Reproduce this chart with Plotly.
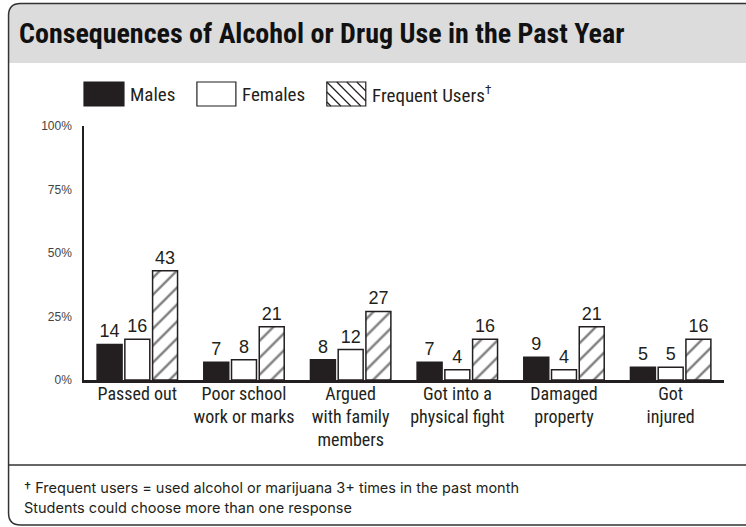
import plotly.graph_objects as go

categories = ["Passed out", "Poor school<br>work or marks", "Argued<br>with family<br>members",
              "Got into a<br>physical fight", "Damaged<br>property", "Got<br>injured"]
males = [14, 7, 8, 7, 9, 5]
females = [16, 8, 12, 4, 4, 5]
frequent = [43, 21, 27, 16, 21, 16]
series_names = ["Males", "Females", "Frequent Users<sup>†</sup>"]
y_ticks = [0, 25, 50, 75, 100]
y_tick_labels = ["0%", "25%", "50%", "75%", "100%"]
title_text = "Consequences of Alcohol or Drug Use in the Past Year"
footnotes = ["† Frequent users = used alcohol or marijuana 3+ times in the past month",
             "Students could choose more than one response"]

W, H = 746, 527
PL, PR, PT, PB = 84, 724.5, 126, 380
COND = "Roboto Condensed, DejaVu Sans Condensed, sans-serif"
DARK = "#231f20"

def px(x):
    return (x - PL) / (PR - PL)

def py(y):
    return (PB - y) / (PB - PT)

x_idx = list(range(len(categories)))
fig = go.Figure()
common = dict(textposition="outside", cliponaxis=False,
              textfont=dict(family="Liberation Sans, Arial, sans-serif", size=18, color=DARK))
fig.add_trace(go.Bar(x=x_idx, y=males, name=series_names[0], text=males,
                     marker=dict(color=DARK, line=dict(color=DARK, width=1.5)), **common))
fig.add_trace(go.Bar(x=x_idx, y=females, name=series_names[1], text=females,
                     marker=dict(color="white", line=dict(color=DARK, width=1.5)), **common))
fig.add_trace(go.Bar(x=x_idx, y=frequent, name=series_names[2], text=frequent,
                     marker=dict(color="white", line=dict(color=DARK, width=1.5),
                                 pattern=dict(shape="/", fgcolor="#000000", bgcolor="white",
                                              size=12, solidity=0.2)), **common))

shapes = []
ann = []
r = 12
L, T, B, R = 8.5, 3.5, 525, 760
def P(x, y):
    return f"{px(x):.5f},{py(y):.5f}"
shapes.append(dict(type="path", xref="paper", yref="paper", layer="below",
                   path=f"M {P(L, 63)} L {P(L, T+r)} Q {P(L, T)} {P(L+r, T)} L {P(R, T)} L {P(R, 63)} Z",
                   fillcolor="#dcdcdd", line=dict(width=0)))
shapes.append(dict(type="path", xref="paper", yref="paper", layer="above",
                   path=(f"M {P(R, T)} L {P(L+r, T)} Q {P(L, T)} {P(L, T+r)} "
                         f"L {P(L, B-r)} Q {P(L, B)} {P(L+r, B)} L {P(R, B)}"),
                   line=dict(color="#333333", width=1.5)))
shapes.append(dict(type="line", xref="paper", yref="paper", x0=px(L), x1=px(R), y0=py(465), y1=py(465),
                   line=dict(color="#333333", width=1.5)))

boxes = [(84, 124), (197, 236), (327, 366)]
ly0, ly1 = 82, 106
for i, (bx0, bx1) in enumerate(boxes):
    fill = DARK if i == 0 else "white"
    shapes.append(dict(type="rect", xref="paper", yref="paper", x0=px(bx0), x1=px(bx1),
                       y0=py(ly1), y1=py(ly0), fillcolor=fill, line=dict(color=DARK, width=1.2)))
    ann.append(dict(xref="paper", yref="paper", x=px(bx1 + 4), y=py(94), text=series_names[i],
                    showarrow=False, xanchor="left", yanchor="middle",
                    font=dict(family=COND, size=19, color=DARK)))
bx0, bx1 = boxes[2]
step = 10
c = bx0 - ly1 + 4
while c < bx1 - ly0:
    ya = max(ly0, bx0 - c); yb = min(ly1, bx1 - c)
    if yb > ya:
        shapes.append(dict(type="line", xref="paper", yref="paper",
                           x0=px(ya + c), y0=py(ya), x1=px(yb + c), y1=py(yb),
                           line=dict(color=DARK, width=1.2)))
    c += step

ann.append(dict(xref="paper", yref="paper", x=px(17), y=py(33), text=f"<b>{title_text}</b>",
                showarrow=False, xanchor="left", yanchor="middle",
                font=dict(family=COND, size=28, color="#111111")))
for i, t in enumerate(footnotes):
    ann.append(dict(xref="paper", yref="paper", x=px(22), y=py(487 + 20 * i), text=t,
                    showarrow=False, xanchor="left", yanchor="middle",
                    font=dict(family="Inter, Roboto, sans-serif", size=14.5, color=DARK)))

fig.update_layout(
    width=W, height=H, margin=dict(l=PL, r=W - PR, t=PT, b=H - PB, pad=0),
    paper_bgcolor="white", plot_bgcolor="white", showlegend=False,
    barmode="group", bargap=0.22, bargroupgap=0.1,
    shapes=shapes, annotations=ann,
    xaxis=dict(range=[-0.5, 5.5], tickmode="array", tickvals=x_idx, ticktext=categories,
               showline=True, linecolor=DARK, linewidth=3, ticks="", showgrid=False, zeroline=False,
               ticklabelstandoff=-5,
               tickfont=dict(family=COND, size=18, color=DARK), fixedrange=True),
    yaxis=dict(range=[0, 100], tickmode="array", tickvals=y_ticks, ticktext=y_tick_labels,
               showline=True, linecolor=DARK, linewidth=1.5, ticks="", showgrid=False, zeroline=False,
               ticklabelstandoff=8,
               tickfont=dict(family="Liberation Sans, Arial, sans-serif", size=12, color="#444444")),
)
fig.write_html("out.html")
